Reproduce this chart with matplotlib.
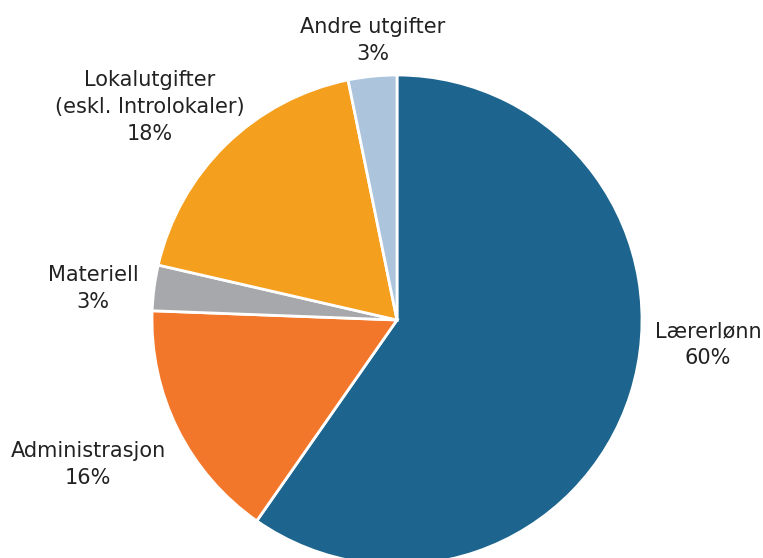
import matplotlib
matplotlib.use("Agg")
import matplotlib.pyplot as plt

categories = ["Lærerlønn", "Administrasjon", "Materiell",
              "Lokalutgifter\n(eskl. Introlokaler)", "Andre utgifter"]
values = [59.7, 15.9, 3.0, 18.2, 3.2]
pct_labels = ["60%", "16%", "3%", "18%", "3%"]
colors = ["#1d658e", "#f3772a", "#a7a8ab", "#f59f1e", "#adc5dc"]

# label positions (pie radius = 1, centre = 0,0)
label_pos = [(1.27, -0.10), (-1.26, -0.59), (-1.24, 0.13),
             (-1.01, 0.87), (-0.10, 1.14)]

W, H = 763, 558
cx, cy, r = 397, 320, 245
fig = plt.figure(figsize=(W / 100, H / 100), dpi=100)
ax = fig.add_axes([0, 0, 1, 1])
ax.pie(values, colors=colors, startangle=90, counterclock=False,
       radius=1, wedgeprops=dict(edgecolor="white", linewidth=2))
for cat, pct, (x, y) in zip(categories, pct_labels, label_pos):
    ax.text(x, y, f"{cat}\n{pct}", ha="center", va="center",
            fontsize=15, color="#222222", linespacing=1.42)
ax.set_aspect("auto")
ax.set_xlim(-cx / r, (W - cx) / r)
ax.set_ylim(-(H - cy) / r, cy / r)
ax.axis("off")
fig.savefig("out.png", dpi=100, facecolor="white")
